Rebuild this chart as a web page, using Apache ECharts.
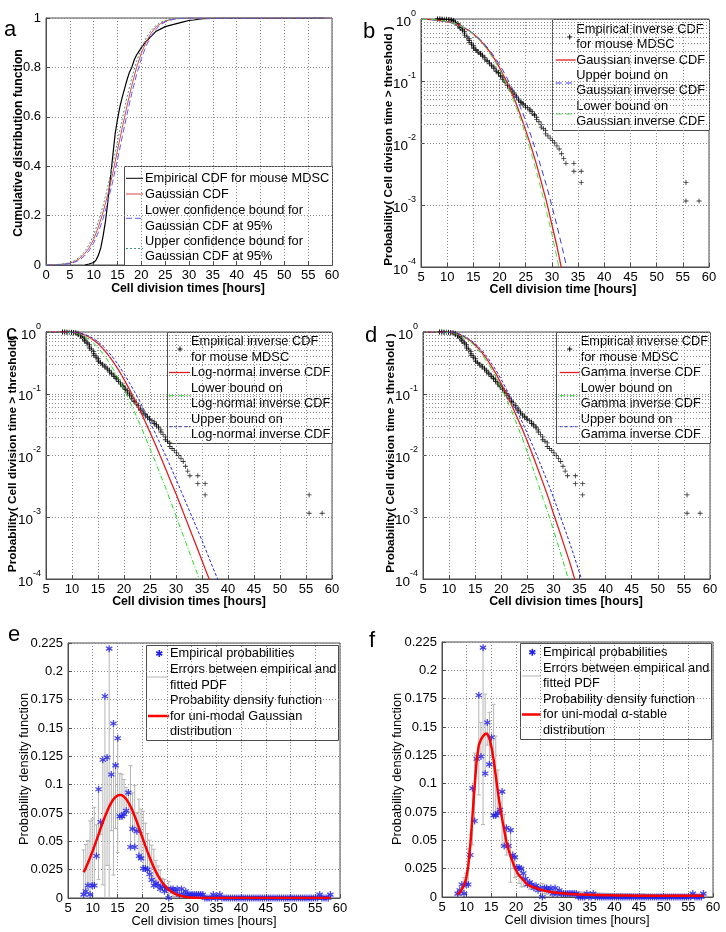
<!DOCTYPE html>
<html><head><meta charset="utf-8">
<script src="https://cdn.jsdelivr.net/npm/echarts@6/dist/echarts.min.js"></script>
<style>html,body{margin:0;padding:0;background:#fff}#c{width:726px;height:932px}</style>
</head><body><div id="c"></div>
<script>
// ================= DATA =================
// Panel a: empirical CDF
const aEmpX = [8.2,9,10,10.5,11,11.5,12,12.5,13,13.5,14,14.5,15,15.5,16,16.5,17,17.5,18,18.5,19,19.5,20,21,22,23,24,25,26,27,28,29,30,31,32,33,35,36,56,58.3];
const aEmpY = [0,0.004,0.01,0.02,0.04,0.07,0.12,0.18,0.26,0.35,0.44,0.53,0.59,0.64,0.68,0.715,0.75,0.78,0.80,0.83,0.85,0.865,0.88,0.905,0.925,0.945,0.955,0.965,0.97,0.975,0.98,0.985,0.99,0.992,0.995,0.997,0.998,0.999,0.9995,1.0];
// Panel a: Gaussian CDF and 95% bounds
const aFitX = [0,2,4,5,6,7,8,9,10,11,12,13,14,15,16,17,18,19,20,21,22,23,24,25,26,27,28,30,60];
const aGauss = [0.0002,0.0009,0.004,0.0078,0.014,0.0256,0.043,0.068,0.104,0.154,0.215,0.288,0.371,0.464,0.556,0.644,0.727,0.80,0.858,0.903,0.937,0.962,0.977,0.987,0.993,0.9965,0.998,0.9997,1];
const aLower = [0.0001,0.0007,0.003,0.006,0.011,0.020,0.035,0.057,0.089,0.133,0.189,0.258,0.338,0.426,0.519,0.61,0.695,0.771,0.835,0.887,0.925,0.953,0.972,0.984,0.991,0.995,0.9975,0.9995,1];
const aUpper = [0.0003,0.0013,0.005,0.010,0.018,0.031,0.052,0.081,0.122,0.176,0.242,0.32,0.408,0.5,0.592,0.68,0.758,0.824,0.877,0.919,0.948,0.969,0.982,0.99,0.995,0.9975,0.9988,0.9998,1];

// Panels b-d: empirical inverse CDF (survival) points
const survX = [8.17,8.17,8.60,8.60,9.03,9.03,9.46,9.89,9.89,10.32,10.32,10.75,10.75,11.18,11.18,11.18,11.61,11.61,12.04,12.04,12.04,12.47,12.47,12.47,12.90,12.90,13.33,13.33,13.33,13.76,13.76,14.19,14.19,14.19,14.62,14.62,15.05,15.05,15.05,15.48,15.48,15.91,15.91,16.34,16.34,16.77,16.77,17.20,17.20,17.63,17.63,18.06,18.06,18.49,18.49,18.92,18.92,19.35,19.35,19.78,19.78,20.21,20.21,20.64,20.64,21.07,21.07,21.50,21.50,21.93,21.93,22.36,22.36,22.79,22.79,23.22,23.22,23.65,23.65,24.08,24.08,24.51,24.51,24.94,24.94,25.37,25.80,25.80,26.23,26.23,26.66,26.66,27.09,27.09,27.52,27.95,27.95,28.38,28.81,28.81,29.24,29.67,30.10,30.53,30.96,31.39,31.82,32.25,32.68,34.2,34.2,35.6,35.6,55.6,55.6,58.1];
const survY = [1.0,0.999,0.998,0.996,0.995,0.992,0.99,0.989,0.985,0.983,0.978,0.975,0.96,0.955,0.93,0.90,0.89,0.87,0.85,0.82,0.79,0.77,0.73,0.70,0.68,0.65,0.63,0.59,0.55,0.53,0.50,0.48,0.45,0.42,0.41,0.385,0.37,0.35,0.335,0.32,0.31,0.30,0.29,0.28,0.27,0.26,0.25,0.24,0.225,0.215,0.208,0.20,0.19,0.18,0.175,0.168,0.158,0.15,0.143,0.137,0.13,0.123,0.118,0.112,0.106,0.10,0.094,0.089,0.084,0.079,0.075,0.071,0.068,0.064,0.060,0.057,0.054,0.051,0.049,0.047,0.045,0.043,0.041,0.040,0.038,0.037,0.035,0.033,0.032,0.030,0.029,0.028,0.026,0.024,0.022,0.020,0.018,0.017,0.016,0.014,0.013,0.012,0.011,0.010,0.009,0.008,0.0067,0.0056,0.0047,0.0047,0.0035,0.0035,0.0023,0.0023,0.00116,0.00116];

// Panel b: Gaussian inverse CDF and bounds
const bX = [5,7,9,11,12,13,14,15,16,17,18,19,20,21,22,23,24,25,26,27,28,29,30,31,32,33];
const bGauss = [0.994,0.980,0.943,0.868,0.811,0.742,0.663,0.574,0.482,0.39,0.305,0.229,0.164,0.113,0.075,0.047,0.028,0.016,0.0089,0.0047,0.0023,0.0011,0.00048,0.00021,0.00008,0.00003];
const bUpper = [0.992,0.975,0.936,0.860,0.805,0.739,0.663,0.579,0.492,0.405,0.323,0.248,0.184,0.131,0.090,0.059,0.0375,0.0228,0.0132,0.0073,0.0039,0.0020,0.00097,0.00045,0.0002,0.000085];
const bLower = [0.9946,0.981,0.945,0.868,0.811,0.739,0.657,0.566,0.472,0.378,0.291,0.215,0.154,0.104,0.0668,0.041,0.0239,0.0135,0.0071,0.0036,0.0017,0.00076,0.00034,0.000136,0.00005,0.00002];

// Panel c: log-normal inverse CDF and bounds
const cX = [5,8,10,11,12,13,14,15,16,17,18,19,20,21,22,23,24,25,26,27,28,29,30,31,32,33,34,35,36,37,38,39];
const cLogn = [1.0,0.9995,0.988,0.966,0.922,0.853,0.758,0.650,0.533,0.423,0.323,0.239,0.171,0.120,0.0824,0.0556,0.0366,0.0238,0.0153,0.0097,0.0061,0.0038,0.0024,0.00146,0.00089,0.00054,0.00033,0.0002,0.00012,0.000074,0.000045,0.000028];
const cLower = [1.0,0.9989,0.979,0.944,0.883,0.791,0.681,0.559,0.439,0.333,0.243,0.171,0.117,0.078,0.0512,0.0331,0.0208,0.0129,0.0080,0.0049,0.0030,0.00177,0.00106,0.00062,0.00037,0.000215,0.000128,0.000075,0.000044,0.000026,0.000015,0.000009];
const cUpper = [1.0,0.9996,0.9906,0.9726,0.936,0.877,0.794,0.695,0.585,0.476,0.375,0.286,0.212,0.153,0.109,0.0761,0.0519,0.0348,0.0232,0.0152,0.00998,0.00646,0.00413,0.00263,0.00166,0.00105,0.00067,0.00042,0.00026,0.00016,0.0001,0.000063];

// Panel d: gamma inverse CDF and bounds
const dX = [5,8,10,11,12,13,14,15,16,17,18,19,20,21,22,23,24,25,26,27,28,29,30,31,32,33,34,35,36];
const dGamma = [1.0,0.999,0.985,0.96,0.91,0.83,0.73,0.615,0.50,0.39,0.29,0.21,0.145,0.098,0.065,0.042,0.027,0.0168,0.0103,0.0061,0.0036,0.0021,0.00115,0.00065,0.00036,0.0002,0.000105,0.000057,0.00003];
const dLower = [1.0,0.998,0.98,0.95,0.895,0.81,0.705,0.585,0.465,0.355,0.26,0.183,0.124,0.082,0.052,0.032,0.0193,0.0112,0.0064,0.0036,0.0020,0.00115,0.00062,0.00033,0.000175,0.00009,0.000046,0.000023,0.000012];
const dUpper = [1.0,0.999,0.99,0.968,0.925,0.85,0.755,0.645,0.535,0.425,0.325,0.24,0.17,0.118,0.08,0.053,0.035,0.0228,0.0146,0.0092,0.0057,0.0035,0.0021,0.00122,0.00071,0.00041,0.00023,0.000125,0.00007];

// Panels e-f: empirical probabilities (bin centres and values)
const pdfX = [8.17,8.60,9.03,9.46,9.89,10.32,10.75,11.18,11.61,12.04,
12.47,12.90,13.33,13.76,14.19,14.62,15.05,15.48,15.91,16.34,
16.77,17.20,17.63,18.06,18.49,18.92,19.35,19.78,20.21,20.64,
21.07,21.50,21.93,22.36,22.79,23.22,23.65,24.08,24.51,24.94,
25.37,25.80,26.23,26.66,27.09,27.52,27.95,28.38,28.81,29.24,
29.67,30.10,30.53,30.96,31.39,31.82,32.25,32.68,33.11,33.54,
33.97,34.40,34.83,35.26,35.69,36.12,36.55,36.98,37.41,37.84,
38.27,38.70,39.13,39.56,39.99,40.42,40.85,41.28,41.71,42.14,
42.57,43.00,43.43,43.86,44.29,44.72,45.15,45.58,46.01,46.44,
46.87,47.30,47.73,48.16,48.59,49.02,49.45,49.88,50.31,50.74,
51.17,51.60,52.03,52.46,52.89,53.32,53.75,54.18,54.61,55.04,
55.47,55.90,56.33,56.76,57.19,57.62,58.05];
const pdfEmp = [0.003,0.006,0.011,0.003,0.011,0.011,0.037,0.096,0.067,0.122,
0.178,0.124,0.220,0.109,0.154,0.117,0.141,0.072,0.072,0.074,
0.077,0.093,0.045,0.061,0.045,0.059,0.037,0.035,0.026,0.026,
0.025,0.021,0.016,0.011,0.013,0.011,0.008,0.010,0.006,0.008,
0,0.008,0.008,0.006,0.008,0.003,0.008,0.003,0.006,0.003,
0.003,0.003,0.003,0.003,0.003,0.003,0.003,0,0,0,
0,0.003,0,0,0.003,0,0,0,0,0,
0,0,0,0,0,0,0,0,0,0,
0,0,0,0,0,0,0,0,0,0,
0,0,0,0,0,0,0,0,0,0,
0,0,0,0,0,0,0,0,0,0,
0,0.003,0,0,0,0,0.003];
// Panel e: fitted uni-modal Gaussian PDF at bin centres
const pdfGauss = [0.0227,0.0266,0.0309,0.0355,0.0404,0.0455,0.0508,0.0562,0.0616,0.0668,
0.0718,0.0764,0.0806,0.0842,0.0871,0.0892,0.0905,0.0910,0.0906,0.0893,
0.0873,0.0844,0.0809,0.0769,0.0722,0.0673,0.0621,0.0567,0.0513,0.0460,
0.0409,0.0360,0.0313,0.0270,0.0231,0.0196,0.0164,0.0136,0.0112,0.0091,
0.0073,0.0059,0.0047,0.0037,0.0029,0.0022,0.0017,0.0013,0.0010,0.0007,
0.0005,0.0004,0.0003,0.0002,0.0001,0.0001,0,0,0,0,
0,0,0,0,0,0,0,0,0,0,
0,0,0,0,0,0,0,0,0,0,
0,0,0,0,0,0,0,0,0,0,
0,0,0,0,0,0,0,0,0,0,
0,0,0,0,0,0,0,0,0,0,
0,0,0,0,0,0,0];
// Panel f: fitted uni-modal alpha-stable PDF at bin centres
const pdfStable = [0.002,0.004,0.007,0.010,0.016,0.027,0.046,0.071,0.097,0.121,
0.134,0.139,0.142,0.144,0.144,0.140,0.132,0.121,0.107,0.093,
0.080,0.069,0.059,0.049,0.042,0.036,0.031,0.026,0.022,0.019,
0.017,0.015,0.013,0.011,0.010,0.009,0.0085,0.008,0.0072,0.0066,
0.006,0.0056,0.0052,0.0048,0.0045,0.0042,0.004,0.0037,0.0035,0.0033,
0.0031,0.003,0.0028,0.0027,0.0026,0.0025,0.0024,0.0023,0.0022,0.0021,
0.002,0.002,0.0019,0.0019,0.0018,0.0018,0.0017,0.0017,0.0016,0.0016,
0.0016,0.0015,0.0015,0.0015,0.0014,0.0014,0.0014,0.0014,0.0013,0.0013,
0.0013,0.0013,0.0013,0.0012,0.0012,0.0012,0.0012,0.0012,0.0012,0.0011,
0.0011,0.0011,0.0011,0.0011,0.0011,0.0011,0.0011,0.001,0.001,0.001,
0.001,0.001,0.001,0.001,0.001,0.001,0.001,0.001,0.001,0.001,
0.001,0.001,0.001,0.001,0.001,0.001,0.001];

// ================= STYLE / LAYOUT =================
const F = 'Liberation Sans, Arial, Helvetica, sans-serif';
const AX = '#4d4d4d';
const GRIDC = '#8a8a8a';
const TICKFS = 13;
const LEGFS = 12.8;

const grids = [
  {left:46, top:18, width:286, height:247},
  {left:421, top:19, width:288, height:248},
  {left:46, top:332, width:286, height:247},
  {left:423, top:332, width:287, height:247},
  {left:68, top:643, width:272, height:255},
  {left:442, top:642, width:271, height:255}
].map(g => Object.assign({show:true, borderColor:AX, borderWidth:1, containLabel:false, outerBoundsMode:'none'}, g));

function xAx(i, min) {
  return {type:'value', gridIndex:i, min:min, max:60, interval:5,
    axisLine:{show:true, onZero:false, lineStyle:{color:AX}},
    axisTick:{show:true, inside:true, length:4, lineStyle:{color:AX}},
    axisLabel:{fontFamily:F, fontSize:TICKFS, color:'#000', margin:4},
    splitLine:{show:true, lineStyle:{color:GRIDC, type:[1,2], width:1}}};
}
function yLin(i, min, max, interval) {
  return {type:'value', gridIndex:i, min:min, max:max, interval:interval,
    axisLine:{show:true, onZero:false, lineStyle:{color:AX}},
    axisTick:{show:true, inside:true, length:4, lineStyle:{color:AX}},
    axisLabel:{fontFamily:F, fontSize:TICKFS, color:'#000', margin:5},
    splitLine:{show:true, lineStyle:{color:GRIDC, type:[1,2], width:1}}};
}
function yLog(i) {
  return {type:'log', logBase:10, gridIndex:i, min:0.0001, max:1,
    axisLine:{show:true, onZero:false, lineStyle:{color:AX}},
    axisTick:{show:true, inside:true, length:4, lineStyle:{color:AX}},
    axisLabel:{margin:5, formatter: v => '{b|10}{s|' + Math.round(Math.log10(v)) + '}',
      rich:{ b:{fontFamily:F, fontSize:13.5, color:'#000', verticalAlign:'bottom', lineHeight:20},
             s:{fontFamily:F, fontSize:9, color:'#000', verticalAlign:'top', lineHeight:20} }},
    splitLine:{show:true, lineStyle:{color:GRIDC, type:[1,2], width:1}}};
}
// minor log grid line positions (2..9 x each decade)
const minorLog = [];
for (let d = -4; d < 0; d++) for (let m = 2; m <= 9; m++) minorLog.push({yAxis: m * Math.pow(10, d)});
function minorGrid() {
  return {silent:true, symbol:'none', animation:false, label:{show:false},
    lineStyle:{color:GRIDC, type:[1,2], width:1}, emphasis:{disabled:true}, data:minorLog};
}

function ln(i, xs, ys, color, width, dash, extra) {
  return Object.assign({type:'line', xAxisIndex:i, yAxisIndex:i, data:xs.map((x,k)=>[x, ys[k]]),
    symbol:'none', showSymbol:false, silent:true, animation:false, clip:true,
    lineStyle:{color:color, width:width, type:dash || 'solid'}}, extra || {});
}
const PLUS = 'path://M-0.5,-3L0.5,-3L0.5,-0.5L3,-0.5L3,0.5L0.5,0.5L0.5,3L-0.5,3L-0.5,0.5L-3,0.5L-3,-0.5L-0.5,-0.5Z';
const STAR = 'path://M-0.9,-5L0.9,-5L0.9,5L-0.9,5ZM3.88,3.28L-4.78,-1.72L-3.88,-3.28L4.78,1.72ZM-4.78,1.72L3.88,-3.28L4.78,-1.72L-3.88,3.28Z';
function sc(i, xs, ys, symbol, size, color, extra) {
  return Object.assign({type:'scatter', xAxisIndex:i, yAxisIndex:i, data:xs.map((x,k)=>[x, ys[k]]),
    symbol:symbol, symbolSize:size, silent:true, animation:false, itemStyle:{color:color}}, extra || {});
}
function errBars(i, fit) {
  const data = pdfX.map((x,k) => { const d = Math.abs(pdfEmp[k] - fit[k]); return [x, fit[k]-d, fit[k]+d]; });
  return {type:'custom', xAxisIndex:i, yAxisIndex:i, data:data, silent:true, animation:false,
    encode:{x:0, y:[1,2]},
    renderItem:function(params, api){
      const x = api.value(0), lo0 = api.value(1), hi = api.value(2);
      if (hi - lo0 < 1e-5) return;
      const lo = Math.max(lo0, 0);
      const p1 = api.coord([x, lo]), p2 = api.coord([x, hi]);
      const st = {stroke:'#b5b5b5', lineWidth:1};
      const ch = [{type:'line', shape:{x1:p1[0], y1:p1[1], x2:p2[0], y2:p2[1]}, style:st},
                  {type:'line', shape:{x1:p2[0]-2, y1:p2[1], x2:p2[0]+2, y2:p2[1]}, style:st}];
      if (lo0 > 0) ch.push({type:'line', shape:{x1:p1[0]-2, y1:p1[1], x2:p1[0]+2, y2:p1[1]}, style:st});
      return {type:'group', children:ch};
    }};
}

// ================= LEGENDS / TITLES (graphic) =================
function legendBox(x, y, w, h, items) {
  const ch = [{type:'rect', shape:{x:x+0.5, y:y+0.5, width:w, height:h}, style:{fill:'#fff', stroke:AX, lineWidth:1}}];
  items.forEach(it => {
    if (it.kind === 'line') {
      ch.push({type:'line', shape:{x1:it.x1, y1:it.iy, x2:it.x2, y2:it.iy}, style:{stroke:it.color, lineWidth:it.lw || 1, lineDash:it.dash || null}});
    } else if (it.kind === 'plus') {
      ch.push({type:'line', shape:{x1:it.cx-2.5, y1:it.iy, x2:it.cx+2.5, y2:it.iy}, style:{stroke:'#000', lineWidth:1}});
      ch.push({type:'line', shape:{x1:it.cx, y1:it.iy-2.5, x2:it.cx, y2:it.iy+2.5}, style:{stroke:'#000', lineWidth:1}});
    } else if (it.kind === 'star') {
      const r = 3.5;
      [[0,1],[0.866,0.5],[0.866,-0.5]].forEach(d => ch.push({type:'line',
        shape:{x1:it.cx-d[0]*r, y1:it.iy-d[1]*r, x2:it.cx+d[0]*r, y2:it.iy+d[1]*r}, style:{stroke:'#2020e8', lineWidth:1.6}}));
    }
    it.texts.forEach((t,k) => ch.push({type:'text', x:it.tx, y:it.ty[k],
      style:{text:t, fontFamily:F, fontSize:LEGFS, fill:'#000', verticalAlign:'middle', align:'left'}}));
  });
  return {type:'group', z:100, children:ch};
}
function letter(t, x, y) {
  return {type:'text', z:100, x:x, y:y, style:{text:t, fontFamily:F, fontSize:22, fill:'#000', verticalAlign:'alphabetic', align:'left'}};
}
function title(t, x, y, vertical, bold, fs) {
  return {type:'text', z:100, x:x, y:y, rotation: vertical ? Math.PI/2 : 0,
    style:{text:t, fontFamily:F, fontSize:fs, fontWeight: bold ? 'bold' : 'normal', fill:'#000', align:'center', verticalAlign:'middle'}};
}

const graphics = [
  letter('a', 4, 19), letter('b', 363, 21), letter('c', 6, 323), letter('d', 365, 325), letter('e', 8, 624), letter('f', 369, 630),
  // x-axis titles
  title('Cell division times [hours]', 188, 289, false, true, 12.3),
  title('Cell division time [hours]', 563, 289.5, false, true, 12.3),
  title('Cell division times [hours]', 189, 602, false, true, 12.3),
  title('Cell division times [hours]', 566, 602, false, true, 12.3),
  title('Cell division times [hours]', 204, 921, false, false, 12.8),
  title('Cell division times [hours]', 577, 920, false, false, 12.8),
  // y-axis titles
  title('Cumulative distribution function', 18.5, 143, true, true, 12.2),
  title('Probability( Cell division time > threshold )', 389, 146, true, true, 11.8),
  title('Probability( Cell division time > threshold)', 13, 454, true, true, 11.8),
  title('Probability( Cell division time > threshold )', 391, 453, true, true, 11.8),
  title('Probability density function', 24, 769, true, false, 12.8),
  title('Probability density function', 397, 769, true, false, 12.8),
  legendBox(124, 166, 208, 99, [
    {kind:'line', x1:126, x2:143, iy:178.3, color:'#000', tx:145, ty:[178.3], texts:['Empirical CDF for mouse MDSC']},
    {kind:'line', x1:126, x2:143, iy:194, color:'#e04444', tx:145, ty:[194], texts:['Gaussian CDF']},
    {kind:'line', x1:126, x2:143, iy:218.3, color:'#5a5aff', dash:[6,3], tx:145, ty:[210.7,226], texts:['Lower confidence bound for','Gaussian CDF at 95%']},
    {kind:'line', x1:126, x2:143, iy:248.5, color:'#3d9a80', dash:[2,2], tx:145, ty:[241,256.7], texts:['Upper confidence bound for','Gaussian CDF at 95%']}
  ]),
  legendBox(552, 19, 157, 111, [
    {kind:'plus', cx:569.7, iy:37, tx:576.3, ty:[29.4,44.7], texts:['Empirical inverse CDF','for mouse MDSC']},
    {kind:'line', x1:555.7, x2:575.7, iy:60, color:'#e02020', lw:1.3, tx:576.3, ty:[60], texts:['Gaussian inverse CDF']},
    {kind:'line', x1:555.7, x2:575.7, iy:83, color:'#3a3ae0', dash:[6,4], tx:576.3, ty:[75.3,90.6], texts:['Upper bound on','Gaussian inverse CDF']},
    {kind:'line', x1:555.7, x2:575.7, iy:114, color:'#4ee04e', dash:[6,4], tx:576.3, ty:[106,121.3], texts:['Lower bound on','Gaussian inverse CDF']}
  ]),
  legendBox(167, 332, 165, 111, [
    {kind:'plus', cx:180, iy:349, tx:191, ty:[341.5,357], texts:['Empirical inverse CDF','for mouse MDSC']},
    {kind:'line', x1:169, x2:190, iy:372.5, color:'#e02020', lw:1.3, tx:191, ty:[372.5], texts:['Log-normal inverse CDF']},
    {kind:'line', x1:169, x2:190, iy:395.7, color:'#22dd22', dash:[5,2,1,2], tx:191, ty:[388,403.5], texts:['Lower bound on','Log-normal inverse CDF']},
    {kind:'line', x1:169, x2:190, iy:426.7, color:'#2424e0', dash:[3,2], tx:191, ty:[419,434.5], texts:['Upper bound on','Log-normal inverse CDF']}
  ]),
  legendBox(556, 332, 154, 111, [
    {kind:'plus', cx:569.7, iy:349, tx:580.7, ty:[341.5,357], texts:['Empirical inverse CDF','for mouse MDSC']},
    {kind:'line', x1:559.7, x2:579.7, iy:372.5, color:'#e02020', lw:1.3, tx:580.7, ty:[372.5], texts:['Gamma inverse CDF']},
    {kind:'line', x1:559.7, x2:579.7, iy:395.7, color:'#22dd22', dash:[5,2,1,2], tx:580.7, ty:[388,403.5], texts:['Lower bound on','Gamma inverse CDF']},
    {kind:'line', x1:559.7, x2:579.7, iy:426.7, color:'#2424e0', dash:[3,2], tx:580.7, ty:[419,434.5], texts:['Upper bound on','Gamma inverse CDF']}
  ]),
  legendBox(146, 645, 192, 95, [
    {kind:'star', cx:159.3, iy:653.5, tx:170, ty:[653.5], texts:['Empirical probabilities']},
    {kind:'line', x1:146.7, x2:168.3, iy:677, color:'#b5b5b5', tx:170, ty:[669.5,685], texts:['Errors between empirical and','fitted PDF']},
    {kind:'line', x1:148, x2:169, iy:716, color:'#ff0000', lw:2.5, tx:170, ty:[700.5,716,731.5], texts:['Probability density function','for uni-modal Gaussian','distribution']}
  ]),
  legendBox(520, 643, 191, 96, [
    {kind:'star', cx:532.3, iy:652.3, tx:543, ty:[652.3], texts:['Empirical probabilities']},
    {kind:'line', x1:522, x2:541, iy:676, color:'#b5b5b5', tx:543, ty:[668,683.5], texts:['Errors between empirical and','fitted PDF']},
    {kind:'line', x1:522, x2:541, iy:714.5, color:'#ff0000', lw:2.5, tx:543, ty:[699,714.5,730], texts:['Probability density function','for uni-modal \u03b1-stable','distribution']}
  ])
];

// ================= OPTION =================
const option = {
  backgroundColor:'#fff',
  animation:false,
  grid: grids,
  xAxis: [xAx(0, 0), xAx(1, 5), xAx(2, 5), xAx(3, 5), xAx(4, 5), xAx(5, 5)],
  yAxis: [
    yLin(0, 0, 1, 0.2),
    yLog(1), yLog(2), yLog(3),
    yLin(4, 0, 0.225, 0.025),
    yLin(5, 0, 0.225, 0.025)
  ],
  series: [
    // a
    ln(0, aEmpX, aEmpY, '#000', 1.2),
    ln(0, aFitX, aGauss, '#e04444', 1),
    ln(0, aFitX, aLower, '#5a5aff', 1, [6,3]),
    ln(0, aFitX, aUpper, '#3d9a80', 1, [2,2]),
    // b
    sc(1, survX, survY, PLUS, 5, '#000', {markLine: minorGrid()}),
    ln(1, bX, bGauss, '#e02020', 1.3),
    ln(1, bX, bUpper, '#3a3ae0', 1, [6,4]),
    ln(1, bX, bLower, '#4ee04e', 1, [6,4]),
    // c
    sc(2, survX, survY, PLUS, 5, '#000', {markLine: minorGrid()}),
    ln(2, cX, cLogn, '#e02020', 1.3),
    ln(2, cX, cLower, '#22dd22', 1, [5,2,1,2]),
    ln(2, cX, cUpper, '#2424e0', 1, [3,2]),
    // d
    sc(3, survX, survY, PLUS, 5, '#000', {markLine: minorGrid()}),
    ln(3, dX, dGamma, '#e02020', 1.3),
    ln(3, dX, dLower, '#22dd22', 1, [5,2,1,2]),
    ln(3, dX, dUpper, '#2424e0', 1, [3,2]),
    // e
    errBars(4, pdfGauss),
    sc(4, pdfX, pdfEmp, STAR, 7, '#2020e8'),
    ln(4, pdfX, pdfGauss, '#ff0000', 2.5),
    // f
    errBars(5, pdfStable),
    sc(5, pdfX, pdfEmp, STAR, 7, '#2020e8'),
    ln(5, pdfX, pdfStable, '#ff0000', 2.5)
  ],
  graphic: graphics
};
const chart = echarts.init(document.getElementById('c'), null, {renderer:'canvas'});
chart.setOption(option);
</script>
</body></html>
